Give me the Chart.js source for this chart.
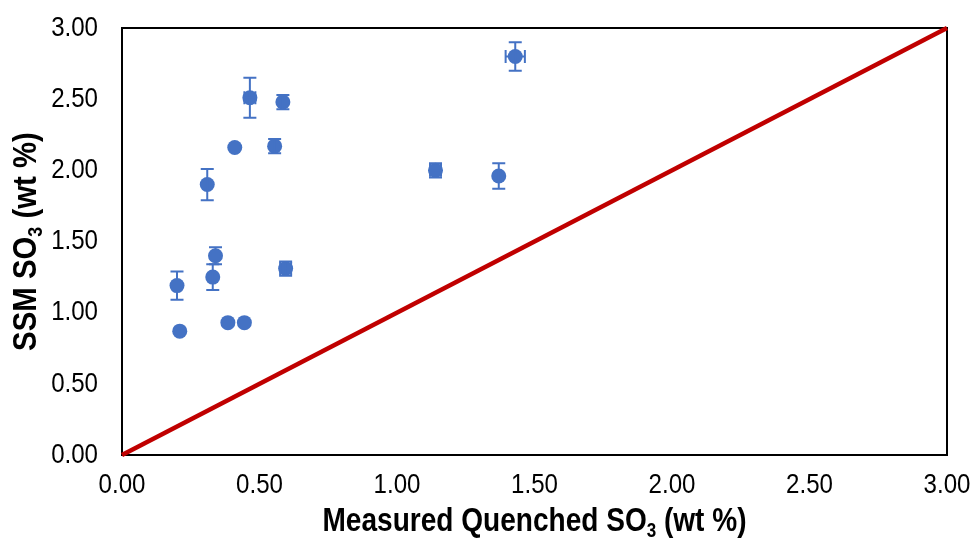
<!DOCTYPE html>
<html>
<head>
<meta charset="utf-8">
<script src="https://cdn.jsdelivr.net/npm/chart.js@4.4.1/dist/chart.umd.min.js"></script>
<style>
  html, body { margin: 0; padding: 0; background: #fff; }
  #wrap { width: 974px; height: 540px; }
</style>
</head>
<body>
<div id="wrap"><canvas id="so3Chart"></canvas></div>
<script>
// measured quenched SO3 vs SSM SO3, wt %
const measuredSO3 = [0.21, 0.20, 0.31, 0.33, 0.34, 0.385, 0.445, 0.41, 0.465, 0.585, 0.555, 0.595, 1.14, 1.37, 1.43];
const ssmSO3      = [0.87, 1.19, 1.90, 1.25, 1.40, 0.93, 0.93, 2.16, 2.51, 2.48, 2.17, 1.31, 2.00, 1.96, 2.80];
const ssmErr      = [0.00, 0.10, 0.11, 0.09, 0.06, 0.00, 0.00, 0.00, 0.14, 0.05, 0.05, 0.05, 0.05, 0.09, 0.10];
const measuredErr = [0.00, 0.00, 0.00, 0.00, 0.00, 0.00, 0.00, 0.00, 0.02, 0.00, 0.00, 0.02, 0.02, 0.00, 0.035];

// 1:1 reference line
const lineX = [0, 3];
const lineY = [0, 3];

const axisMin = 0;
const axisMax = 3;
const axisStep = 0.5;

const blue = "#4472C4";
const red = "#C00000";
const font = "'Liberation Sans', Arial, sans-serif";
// no narrow face installed, so text gets squeezed horizontally
const tickSize = 28;
const tickSqueeze = 0.86;

const points = measuredSO3.map((x, i) => ({ x: x, y: ssmSO3[i] }));
const oneToOne = lineX.map((x, i) => ({ x: x, y: lineY[i] }));

// plot frame, drawn under the marks
const frame = {
    id: "frame",
    beforeDatasetsDraw(chart) {
        const a = chart.chartArea;
        const ctx = chart.ctx;
        ctx.save();
        ctx.strokeStyle = "#000";
        ctx.lineWidth = 2;
        ctx.strokeRect(a.left, a.top, a.right - a.left, a.bottom - a.top);
        ctx.restore();
    }
};

// x / y error bars with caps
const errorBars = {
    id: "errorBars",
    afterDatasetsDraw(chart) {
        const xs = chart.scales.x;
        const ys = chart.scales.y;
        const ctx = chart.ctx;
        const cap = 6.5;
        ctx.save();
        ctx.strokeStyle = blue;
        ctx.lineWidth = 2;
        measuredSO3.forEach((x, i) => {
            const px = xs.getPixelForValue(x);
            const py = ys.getPixelForValue(ssmSO3[i]);
            if (ssmErr[i] > 0) {
                const top = ys.getPixelForValue(ssmSO3[i] + ssmErr[i]);
                const bot = ys.getPixelForValue(ssmSO3[i] - ssmErr[i]);
                ctx.beginPath();
                ctx.moveTo(px, top); ctx.lineTo(px, bot);
                ctx.moveTo(px - cap, top); ctx.lineTo(px + cap, top);
                ctx.moveTo(px - cap, bot); ctx.lineTo(px + cap, bot);
                ctx.stroke();
            }
            if (measuredErr[i] > 0) {
                const l = xs.getPixelForValue(x - measuredErr[i]);
                const r = xs.getPixelForValue(x + measuredErr[i]);
                ctx.beginPath();
                ctx.moveTo(l, py); ctx.lineTo(r, py);
                ctx.moveTo(l, py - cap); ctx.lineTo(l, py + cap);
                ctx.moveTo(r, py - cap); ctx.lineTo(r, py + cap);
                ctx.stroke();
            }
        });
        ctx.restore();
    }
};

// narrow tick labels taken from the scales' own ticks
const tickLabels = {
    id: "tickLabels",
    afterDraw(chart) {
        const xs = chart.scales.x;
        const ys = chart.scales.y;
        const ctx = chart.ctx;
        ctx.save();
        ctx.fillStyle = "#000";
        ctx.font = tickSize + "px " + font;
        ctx.textBaseline = "middle";

        ctx.textAlign = "right";
        ys.ticks.forEach(t => {
            const py = ys.getPixelForValue(t.value);
            ctx.save();
            ctx.translate(98, py);
            ctx.scale(tickSqueeze, 1);
            ctx.fillText(t.value.toFixed(2), 0, 0);
            ctx.restore();
        });

        ctx.textAlign = "center";
        xs.ticks.forEach(t => {
            const px = xs.getPixelForValue(t.value);
            ctx.save();
            ctx.translate(px, 485);
            ctx.scale(tickSqueeze, 1);
            ctx.fillText(t.value.toFixed(2), 0, 0);
            ctx.restore();
        });
        ctx.restore();
    }
};

// writes a title made of parts, some of them subscripts
function drawParts(ctx, parts, size, squeeze) {
    const big = "bold " + size + "px " + font;
    const small = "bold " + Math.round(size * 0.62) + "px " + font;
    let total = 0;
    parts.forEach(p => {
        ctx.font = p.sub ? small : big;
        total += ctx.measureText(p.text).width;
    });
    ctx.scale(squeeze, 1);
    let x = -total / 2;
    ctx.textBaseline = "middle";
    ctx.textAlign = "left";
    parts.forEach(p => {
        ctx.font = p.sub ? small : big;
        ctx.fillText(p.text, x, p.sub ? size * 0.3 : 0);
        x += ctx.measureText(p.text).width;
    });
}

const axisTitles = {
    id: "axisTitles",
    afterDraw(chart) {
        const a = chart.chartArea;
        const ctx = chart.ctx;
        ctx.save();
        ctx.fillStyle = "#000";
        ctx.translate((a.left + a.right) / 2, 522);
        drawParts(ctx, [
            { text: "Measured Quenched SO" },
            { text: "3", sub: true },
            { text: " (wt %)" }
        ], 33, 0.85);
        ctx.restore();

        ctx.save();
        ctx.fillStyle = "#000";
        ctx.translate(27, (a.top + a.bottom) / 2);
        ctx.rotate(-Math.PI / 2);
        drawParts(ctx, [
            { text: "SSM SO" },
            { text: "3", sub: true },
            { text: " (wt %)" }
        ], 33, 0.89);
        ctx.restore();
    }
};

new Chart(document.getElementById("so3Chart"), {
    type: "scatter",
    data: {
        datasets: [
            {
                label: "1:1",
                type: "line",
                data: oneToOne,
                borderColor: red,
                borderWidth: 4.5,
                pointRadius: 0,
                fill: false,
                clip: 4
            },
            {
                label: "SO3",
                data: points,
                backgroundColor: blue,
                borderWidth: 0,
                pointRadius: 7.5,
                pointHoverRadius: 7.5
            }
        ]
    },
    options: {
        responsive: true,
        maintainAspectRatio: false,
        animation: false,
        events: [],
        layout: { padding: { top: 28, right: 27, left: 0, bottom: 0 } },
        plugins: {
            legend: { display: false },
            tooltip: { enabled: false }
        },
        scales: {
            x: {
                type: "linear",
                min: axisMin,
                max: axisMax,
                grid: { display: false, drawTicks: false },
                border: { display: false },
                ticks: { stepSize: axisStep, display: false },
                afterFit(scale) {
                    scale.height = 85;
                    scale.paddingLeft = 0;
                    scale.paddingRight = 0;
                }
            },
            y: {
                type: "linear",
                min: axisMin,
                max: axisMax,
                grid: { display: false, drawTicks: false },
                border: { display: false },
                ticks: { stepSize: axisStep, display: false },
                afterFit(scale) {
                    scale.width = 122;
                    scale.paddingTop = 0;
                    scale.paddingBottom = 0;
                }
            }
        }
    },
    plugins: [frame, errorBars, tickLabels, axisTitles]
});
</script>
</body>
</html>
